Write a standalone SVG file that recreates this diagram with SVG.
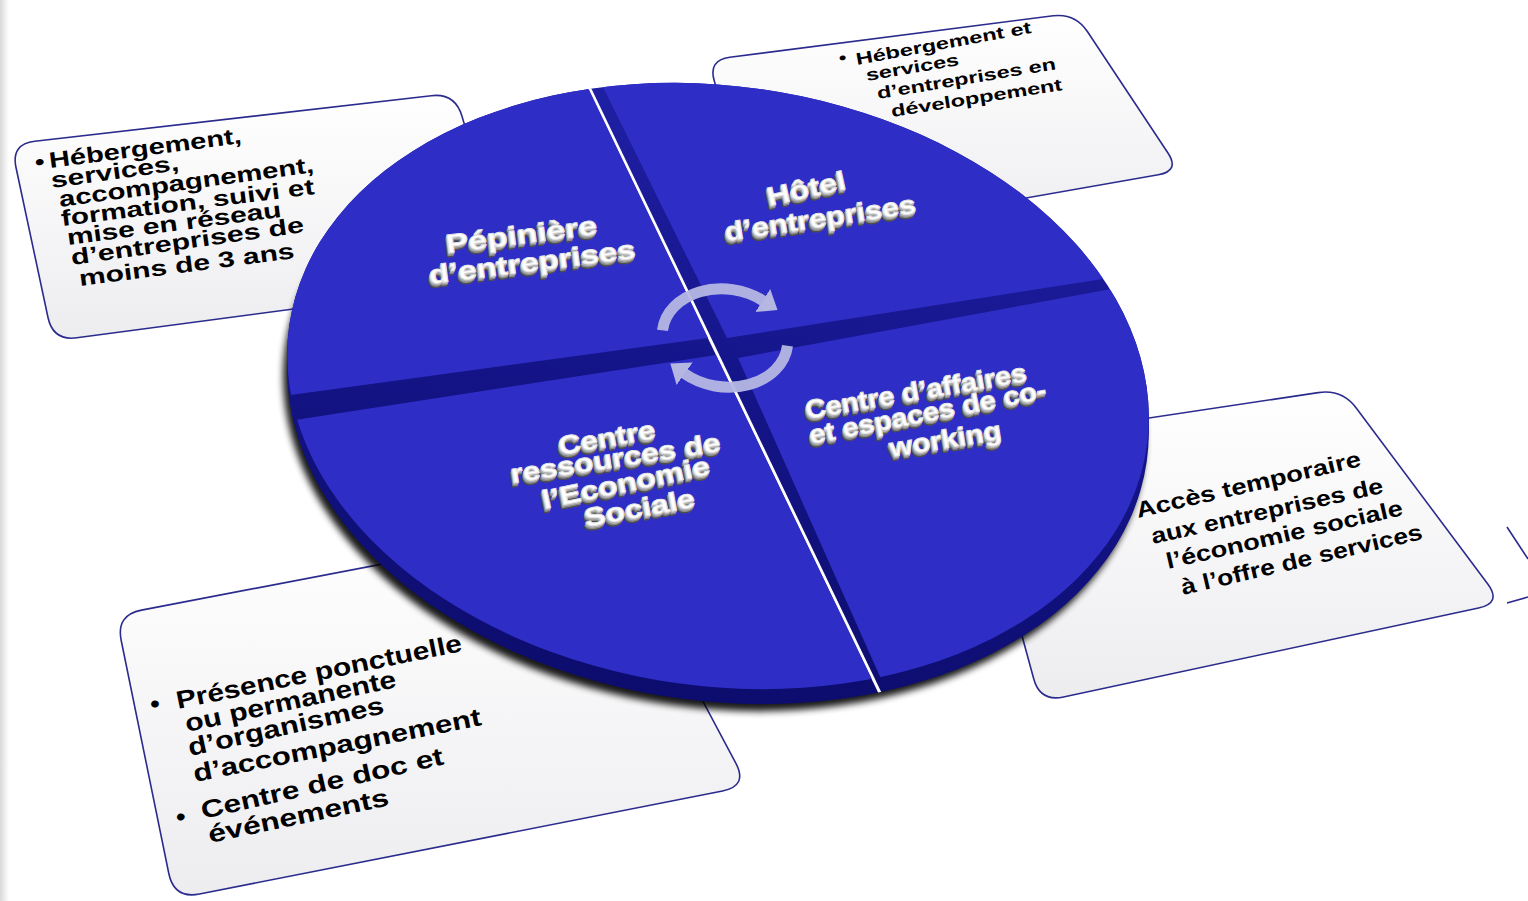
<svg xmlns="http://www.w3.org/2000/svg" width="1528" height="901" viewBox="0 0 1528 901">
<defs>
<style>
.box{fill:url(#boxg);stroke:#2b2b8e;stroke-width:1.6}
.bt{font-family:"Liberation Sans",Arial,sans-serif;font-weight:bold;fill:#000}
.lbl{font-family:"Liberation Sans",Arial,sans-serif;font-weight:bold;font-size:26px}
.face{fill:#ffffff;stroke:#e2e2e2;stroke-width:0.9}
.ext1{fill:#b4b4b4;stroke:#b4b4b4;stroke-width:0.9}
.ext2{fill:#8a8a8a;stroke:#8a8a8a;stroke-width:0.9}
.ext3{fill:#4e4e4e;stroke:#4e4e4e;stroke-width:0.9}
.top{fill:#2e2ec6}
.arrow{fill:none;stroke:#b5b7e3;stroke-width:11;stroke-opacity:0.95}
</style>
<linearGradient id="boxg" x1="0" y1="0" x2="0" y2="1"><stop offset="0" stop-color="#ffffff"/><stop offset="1" stop-color="#ededf0"/></linearGradient>
<linearGradient id="sideg" gradientUnits="userSpaceOnUse" x1="0" y1="80" x2="0" y2="710"><stop offset="0" stop-color="#2020a6"/><stop offset="0.5" stop-color="#141488"/><stop offset="1" stop-color="#0c0c6c"/></linearGradient>
<linearGradient id="edgeg" x1="0" y1="0" x2="1" y2="0"><stop offset="0" stop-color="#d9d9d9"/><stop offset="1" stop-color="#ffffff"/></linearGradient>
<filter id="blur" x="-10%" y="-10%" width="120%" height="120%"><feGaussianBlur stdDeviation="3.5"/></filter>
<ellipse id="disc" cx="718" cy="386" rx="433" ry="300" transform="rotate(8 718 386)"/>
<clipPath id="clipTop"><use href="#disc"/></clipPath>
<clipPath id="clipSolid"><use href="#disc"/><use href="#disc" transform="translate(0,15)"/></clipPath>
<marker id="head" viewBox="0 -1.3 1.6 2.6" markerWidth="1.6" markerHeight="2.6" refX="0.05" refY="0" orient="auto" markerUnits="strokeWidth"><path d="M0,-1.25 L1.6,0 L0,1.25 Z" fill="#b5b7e3"/></marker>
</defs>

<rect x="0" y="0" width="1528" height="901" fill="#ffffff"/>
<rect x="0" y="0" width="9" height="901" fill="url(#edgeg)"/>

<g id="box-pepiniere">
<path class="box" d="M34.8,141.3 L431.2,95.7 Q455,93 461.9,116 L504.1,257 Q511,280 487.2,283.2 L76.8,337.8 Q53,341 48,317.5 L16,167.5 Q11,144 34.8,141.3 Z"/>
<text class="bt" font-size="27" transform="translate(36,170) rotate(-7.5) scale(1,0.82)">•</text>
<text class="bt" font-size="27" transform="translate(50,168) rotate(-7.4) scale(1,0.82)" textLength="194" lengthAdjust="spacingAndGlyphs">Hébergement,</text>
<text class="bt" font-size="27" transform="translate(52,188) rotate(-8) scale(1,0.82)" textLength="129" lengthAdjust="spacingAndGlyphs">services,</text>
<text class="bt" font-size="27" transform="translate(60,207) rotate(-7.8) scale(1,0.82)" textLength="257" lengthAdjust="spacingAndGlyphs">accompagnement,</text>
<text class="bt" font-size="27" transform="translate(62,226) rotate(-7.2) scale(1,0.82)" textLength="255" lengthAdjust="spacingAndGlyphs">formation, suivi et</text>
<text class="bt" font-size="27" transform="translate(68,245) rotate(-7.5) scale(1,0.82)" textLength="216" lengthAdjust="spacingAndGlyphs">mise en réseau</text>
<text class="bt" font-size="27" transform="translate(72,265) rotate(-8.1) scale(1,0.82)" textLength="235" lengthAdjust="spacingAndGlyphs">d’entreprises de</text>
<text class="bt" font-size="27" transform="translate(80,286) rotate(-7.4) scale(1,0.82)" textLength="217" lengthAdjust="spacingAndGlyphs">moins de 3 ans</text>
</g>

<g id="box-hotel">
<path class="box" d="M729.8,57.2 L1053.2,15.8 Q1075,13 1087.2,31.3 L1167.8,152.7 Q1180,171 1158.3,174.8 L784.7,240.2 Q763,244 756.7,222.9 L714.3,81.1 Q708,60 729.8,57.2 Z"/>
<text class="bt" font-size="21" transform="translate(840,64) rotate(-10.4) scale(1,0.8)">•</text>
<text class="bt" font-size="21" transform="translate(857,65) rotate(-10.4) scale(1,0.8)" textLength="178" lengthAdjust="spacingAndGlyphs">Hébergement et</text>
<text class="bt" font-size="21" transform="translate(867,81) rotate(-9.8) scale(1,0.8)" textLength="94" lengthAdjust="spacingAndGlyphs">services</text>
<text class="bt" font-size="21" transform="translate(878,99) rotate(-9.5) scale(1,0.8)" textLength="181" lengthAdjust="spacingAndGlyphs">d’entreprises en</text>
<text class="bt" font-size="21" transform="translate(892,117) rotate(-9) scale(1,0.8)" textLength="173" lengthAdjust="spacingAndGlyphs">développement</text>
</g>

<g id="box-affaires">
<path class="box" d="M993.7,441.4 L1318.3,392.6 Q1342,389 1356.4,408.2 L1487.6,583.8 Q1502,603 1478.5,608 L1063.5,697 Q1040,702 1033.7,678.8 L976.3,468.2 Q970,445 993.7,441.4 Z"/>
<text class="bt" font-size="26" transform="translate(1138,518) rotate(-13.1) scale(1,0.86)" textLength="230" lengthAdjust="spacingAndGlyphs">Accès temporaire</text>
<text class="bt" font-size="26" transform="translate(1153,544) rotate(-12.5) scale(1,0.86)" textLength="237" lengthAdjust="spacingAndGlyphs">aux entreprises de</text>
<text class="bt" font-size="26" transform="translate(1168,569) rotate(-12.9) scale(1,0.86)" textLength="242" lengthAdjust="spacingAndGlyphs">l’économie sociale</text>
<text class="bt" font-size="26" transform="translate(1183,595) rotate(-13.1) scale(1,0.86)" textLength="247" lengthAdjust="spacingAndGlyphs">à l’offre de services</text>
</g>

<g id="box-partial">
<path d="M1507,527 L1528,559 M1507,603 L1528,597" fill="none" stroke="#2b2b8e" stroke-width="1.6"/>
</g>

<g id="box-ressources">
<path class="box" d="M141.5,610.1 L581.5,525.9 Q607,521 619.2,544 L735.8,763.1 Q748,786 722.5,791 L199.5,894 Q174,899 168.8,873.5 L121.2,640.5 Q116,615 141.5,610.1 Z"/>
<text class="bt" font-size="27" transform="translate(152,713) rotate(-11.5) scale(1,0.92)">•</text>
<text class="bt" font-size="27" transform="translate(178,709) rotate(-11.5) scale(1,0.92)" textLength="291" lengthAdjust="spacingAndGlyphs">Présence ponctuelle</text>
<text class="bt" font-size="27" transform="translate(187,732) rotate(-12.1) scale(1,0.92)" textLength="215" lengthAdjust="spacingAndGlyphs">ou permanente</text>
<text class="bt" font-size="27" transform="translate(190,756) rotate(-12.4) scale(1,0.92)" textLength="200" lengthAdjust="spacingAndGlyphs">d’organismes</text>
<text class="bt" font-size="27" transform="translate(195,782) rotate(-11.2) scale(1,0.92)" textLength="293" lengthAdjust="spacingAndGlyphs">d’accompagnement</text>
<text class="bt" font-size="27" transform="translate(178,826) rotate(-12.8) scale(1,0.92)">•</text>
<text class="bt" font-size="27" transform="translate(203,819) rotate(-12.8) scale(1,0.92)" textLength="248" lengthAdjust="spacingAndGlyphs">Centre de doc et</text>
<text class="bt" font-size="27" transform="translate(210,843) rotate(-11.9) scale(1,0.92)" textLength="184" lengthAdjust="spacingAndGlyphs">événements</text>
</g>

<g id="disc-base">
<use href="#disc" transform="translate(-4,22)" fill="#000" opacity="0.9" filter="url(#blur)"/>
<g fill="url(#sideg)">
<use href="#disc" transform="translate(0,15)"/>
<use href="#disc" transform="translate(0,7)"/>
<use href="#disc"/>
</g>
<path d="M576,60 L893,720" stroke="#ffffff" stroke-width="3" fill="none" clip-path="url(#clipSolid)"/>
</g>

<g id="node-centre-ressources">
<polygon class="top" clip-path="url(#clipTop)" points="100,450 716,355 930,800 100,800"/>
<g class="lbl">
<use href="#t-bl" class="ext3" transform="translate(-1.6,4.5)"/>
<use href="#t-bl" class="ext2" transform="translate(-1.1,3)"/>
<use href="#t-bl" class="ext1" transform="translate(-0.5,1.5)"/>
<g class="face"><g id="t-bl">
<text transform="translate(560,455) rotate(-10)" textLength="98" lengthAdjust="spacingAndGlyphs">Centre</text>
<text transform="translate(512,483) rotate(-8.7)" textLength="212" lengthAdjust="spacingAndGlyphs">ressources de</text>
<text transform="translate(544,509) rotate(-11.9)" textLength="171" lengthAdjust="spacingAndGlyphs">l’Economie</text>
<text transform="translate(586,527) rotate(-10.5)" textLength="112" lengthAdjust="spacingAndGlyphs">Sociale</text>
</g></g>
</g>
</g>

<g id="node-centre-affaires">
<polygon class="top" clip-path="url(#clipTop)" points="738,358 1300,254 1300,800 935,800"/>
<g class="lbl">
<use href="#t-br" class="ext3" transform="translate(-1.6,4.5)"/>
<use href="#t-br" class="ext2" transform="translate(-1.1,3)"/>
<use href="#t-br" class="ext1" transform="translate(-0.5,1.5)"/>
<g class="face"><g id="t-br">
<text transform="translate(807,419) rotate(-9.8)" textLength="224" lengthAdjust="spacingAndGlyphs">Centre d’affaires</text>
<text transform="translate(811,444) rotate(-11)" textLength="241" lengthAdjust="spacingAndGlyphs">et espaces de co-</text>
<text transform="translate(891,457) rotate(-9.2)" textLength="113" lengthAdjust="spacingAndGlyphs">working</text>
</g></g>
</g>
</g>

<g id="node-pepiniere">
<polygon class="top" clip-path="url(#clipTop)" points="100,421 708,338 546,0 100,0"/>
<g class="lbl">
<use href="#t-tl" class="ext3" transform="translate(-1.6,4.5)"/>
<use href="#t-tl" class="ext2" transform="translate(-1.1,3)"/>
<use href="#t-tl" class="ext1" transform="translate(-0.5,1.5)"/>
<g class="face"><g id="t-tl">
<text transform="translate(447,253) rotate(-7.2)" textLength="152" lengthAdjust="spacingAndGlyphs">Pépinière</text>
<text transform="translate(430,284) rotate(-7.2)" textLength="208" lengthAdjust="spacingAndGlyphs">d’entreprises</text>
</g></g>
</g>
</g>

<g id="node-hotel">
<polygon class="top" clip-path="url(#clipTop)" points="560,0 727,338 1300,248 1300,0"/>
<g class="lbl">
<use href="#t-tr" class="ext3" transform="translate(-1.6,4.5)"/>
<use href="#t-tr" class="ext2" transform="translate(-1.1,3)"/>
<use href="#t-tr" class="ext1" transform="translate(-0.5,1.5)"/>
<g class="face"><g id="t-tr">
<text transform="translate(769,206) rotate(-12.5)" textLength="80" lengthAdjust="spacingAndGlyphs">Hôtel</text>
<text transform="translate(726,241) rotate(-8.4)" textLength="193" lengthAdjust="spacingAndGlyphs">d’entreprises</text>
</g></g>
</g>
</g>

<g id="connectors">
<path class="arrow" d="M662.5,330.3 A63,49 7 0 1 763.2,300.8" marker-end="url(#head)"/>
<path class="arrow" d="M787.5,345.7 A63,49 7 0 1 684.2,373.4" marker-end="url(#head)"/>
</g>
</svg>
